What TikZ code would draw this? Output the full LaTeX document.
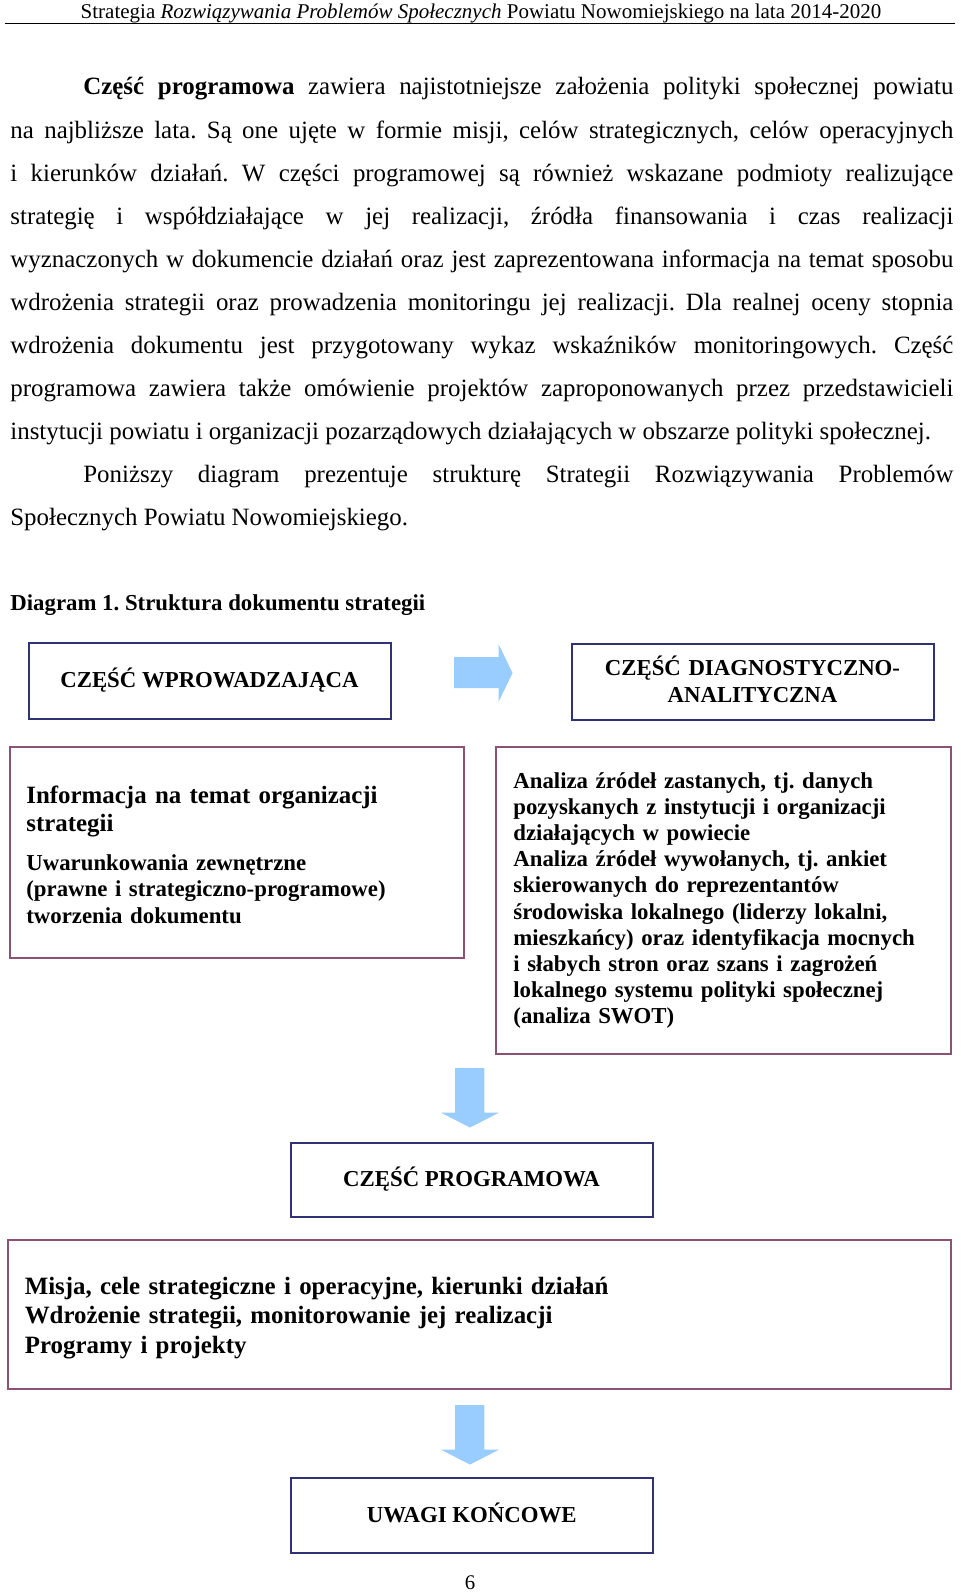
\documentclass[tikz,border=0pt]{standalone}
\usepackage{fontspec}
\setmainfont{Liberation Serif}
\usepackage{xcolor}
\usepackage{tikz}
\usetikzlibrary{positioning}

\definecolor{boxblue}{RGB}{48,50,120}
\definecolor{boxmauve}{RGB}{140,82,118}
\definecolor{arrowblue}{RGB}{153,204,255}

\frenchspacing

\begin{document}
\begin{tikzpicture}[x=0.5pt, y=-0.5pt,
    bluebox/.style={draw=boxblue, line width=1pt, inner sep=0pt, minimum width=181pt, minimum height=38pt},
    mauvebox/.style={draw=boxmauve, line width=1pt, inner sep=0pt},
    title/.style={inner sep=0pt, anchor=base, align=center, font=\fontsize{11.4}{13.5}\selectfont\bfseries},
    boxtext/.style={inner sep=0pt, anchor=base west, align=left}]

    \useasboundingbox (0,0) rectangle (960,1594);
    \fill[white] (0,0) rectangle (960,1594);

    % Running head
    \node[inner sep=0pt, anchor=base, font=\fontsize{10.5}{12}\selectfont] (head) at (481,18.3)
        {Strategia \textit{Rozwiązywania Problemów Społecznych} Powiatu Nowomiejskiego na lata 2014-2020};
    \draw[line width=0.6pt] (5,23.5) -- (955,23.5);

    % Body text
    \node[inner sep=0pt, anchor=base west, font=\fontsize{12.45}{21.55}\selectfont] (body) at (10,95) {\vtop{\hsize=471.5pt \baselineskip=21.55pt
        \hbox to\hsize{\hspace*{36.5pt}\textbf{Część programowa} zawiera najistotniejsze założenia polityki społecznej powiatu}
        \hbox to\hsize{na najbliższe lata. Są one ujęte w formie misji, celów strategicznych, celów operacyjnych}
        \hbox to\hsize{i kierunków działań. W części programowej są również wskazane podmioty realizujące}
        \hbox to\hsize{strategię i współdziałające w jej realizacji, źródła finansowania i czas realizacji}
        \hbox to\hsize{wyznaczonych w dokumencie działań oraz jest zaprezentowana informacja na temat sposobu}
        \hbox to\hsize{wdrożenia strategii oraz prowadzenia monitoringu jej realizacji. Dla realnej oceny stopnia}
        \hbox to\hsize{wdrożenia dokumentu jest przygotowany wykaz wskaźników monitoringowych. Część}
        \hbox to\hsize{programowa zawiera także omówienie projektów zaproponowanych przez przedstawicieli}
        \hbox{instytucji powiatu i organizacji pozarządowych działających w obszarze polityki społecznej.}
        \hbox to\hsize{\hspace*{36.5pt}Poniższy diagram prezentuje strukturę Strategii Rozwiązywania Problemów}
        \hbox{Społecznych Powiatu Nowomiejskiego.}}};

    % Caption
    \node[inner sep=0pt, anchor=base west, font=\fontsize{11.4}{13.5}\selectfont\bfseries] (caption) at (10,610)
        {Diagram 1. Struktura dokumentu strategii};

    % Top row
    \node[bluebox] (intro) at (209.5,681) {};
    \node[title] (introtitle) at ([yshift=-3pt]intro.center) {CZĘŚĆ WPROWADZAJĄCA};
    \node[bluebox] (diag) at (752.5,682) {};
    \node[title, text width=181pt] (diagtitle) at (752.5,675) {CZĘŚĆ DIAGNOSTYCZNO-\\ANALITYCZNA};
    \fill[arrowblue] (454,657) -- (498.5,657) -- (498.5,644) -- (512.5,673) -- (498.5,702) -- (498.5,688) -- (454,688) -- cycle;

    % Contents of the first two parts
    \node[mauvebox, minimum width=227pt, minimum height=105.75pt] (introinfo) at (237,852.25) {};
    \node[boxtext, text width=215pt, font=\fontsize{12.45}{14}\selectfont\bfseries] (introinfoa) at (26,803)
        {Informacja na temat organizacji\\strategii};
    \node[boxtext, text width=215pt, font=\fontsize{11.4}{13.25}\selectfont\bfseries] (introinfob) at (26,870)
        {Uwarunkowania zewnętrzne\\(prawne i strategiczno-programowe)\\tworzenia dokumentu};

    \node[mauvebox, minimum width=227.5pt, minimum height=153.5pt] (diaginfo) at (723.5,900) {};
    \node[boxtext, text width=215pt, font=\fontsize{11.4}{13.1}\selectfont\bfseries] (diaginfotxt) at (513,788)
        {Analiza źródeł zastanych, tj. danych\\
         pozyskanych z instytucji i organizacji\\
         działających w powiecie\\
         Analiza źródeł wywołanych, tj. ankiet\\
         skierowanych do reprezentantów\\
         środowiska lokalnego (liderzy lokalni,\\
         mieszkańcy) oraz identyfikacja mocnych\\
         i słabych stron oraz szans i zagrożeń\\
         lokalnego systemu polityki społecznej\\
         (analiza SWOT)};

    % Down arrows
    \foreach \y in {1068,1405}
        \fill[arrowblue] (455,\y) -- (484.3,\y) -- (484.3,\y+44.5) -- (499.3,\y+44.5) -- (470,\y+59.5) -- (440.7,\y+44.5) -- (455,\y+44.5) -- cycle;

    % Programme part
    \node[bluebox, minimum height=37pt] (prog) at (471.5,1180) {};
    \node[title] (progtitle) at ([yshift=-3pt]prog.center) {CZĘŚĆ PROGRAMOWA};
    \node[mauvebox, minimum width=471.5pt, minimum height=74.5pt] (proginfo) at (479.5,1314.5) {};
    \node[boxtext, text width=450pt, font=\fontsize{12.45}{14.75}\selectfont\bfseries] (proginfotxt) at (24.4,1294)
        {Misja, cele strategiczne i operacyjne, kierunki działań\\
         Wdrożenie strategii, monitorowanie jej realizacji\\
         Programy i projekty};

    % Final remarks
    \node[bluebox, minimum height=37.5pt] (final) at (471.7,1515) {};
    \node[title] (finaltitle) at ([yshift=-3.5pt]final.center) {UWAGI KOŃCOWE};

    % Page number
    \node[inner sep=0pt, anchor=base, font=\fontsize{10.4}{12}\selectfont] (pagenum) at (470,1589) {6};
\end{tikzpicture}
\end{document}
